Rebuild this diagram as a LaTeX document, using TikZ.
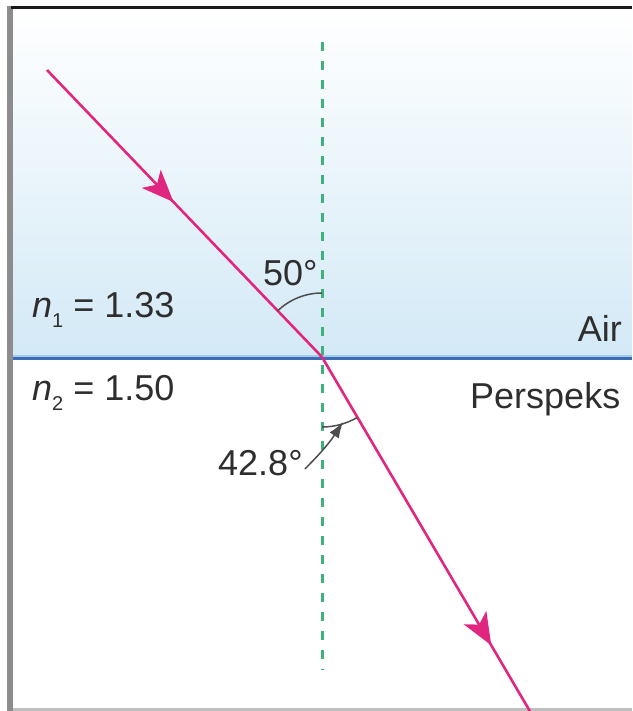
\documentclass[tikz,border=0pt]{standalone}
\usepackage{fontspec}
\setmainfont{Liberation Sans}
\usetikzlibrary{arrows.meta,decorations.markings,calc}
\definecolor{raycol}{HTML}{E0267E}
\definecolor{normcol}{HTML}{3DB27A}
\definecolor{airbot}{HTML}{D3E9F6}
\definecolor{surfdark}{HTML}{3A6DB6}
\definecolor{surflight}{HTML}{A3CCE9}
\definecolor{labcol}{HTML}{2E2E2E}
\definecolor{framegray}{HTML}{8C8C8C}

\begin{document}
\begin{tikzpicture}[x=1pt,y=-1pt]
    \tikzstyle{ray}=[raycol,line width=2.6pt]
    \tikzstyle{raymid}=[postaction={decorate},decoration={markings,
        mark=at position #1 with {\arrow{Stealth[length=32pt,width=26pt,inset=8pt]}}}]
    \tikzstyle{normal}=[normcol,line width=3pt,dash pattern=on 9pt off 10pt]
    \tikzstyle{anglearc}=[labcol!85,line width=1.5pt]
    \tikzstyle{lbl}=[labcol,font=\fontsize{36}{40}\selectfont,inner sep=0pt,anchor=base west]
    \useasboundingbox (0,0) rectangle (632,711);
    % Air and frame
    \shade[top color=white,bottom color=airbot] (13,9) rectangle (632,357);
    \fill[framegray] (7,6) rectangle (13,711);
    \draw[black!90,line width=3pt] (11,7.5) -- (632,7.5);
    \draw[black!25,line width=3pt] (13,709.5) -- (632,709.5);
    % Surface
    \draw[surflight,line width=2pt] (13,355.5) -- (632,355.5);
    \draw[surfdark,line width=3pt] (13,358.5) -- (632,358.5);
    % Normal and rays
    \coordinate (ntop) at (322,42);
    \coordinate (nbot) at (322,670);
    \coordinate (src) at (47,70);
    \coordinate (hit) at (322,357);
    \coordinate (out) at (531,713);
    \draw[normal] (ntop) -- (nbot);
    \draw[ray,raymid=0.46] (src) -- (hit);
    \draw[ray,raymid=0.81] (hit) -- (out);
    % Angles
    \draw[anglearc] ($(hit)+(226.1:64)$) arc[start angle=226.1,end angle=270,radius=64];
    \draw[anglearc] ($(hit)+(90:70)$) arc[start angle=90,end angle=59.6,radius=70];
    \coordinate (tip) at (343,422);
    % Labels
    \node[lbl] (n1) at (32,317) {\textit{n}\raisebox{-0.3em}{\fontsize{20}{20}\selectfont 1}\ = 1.33};
    \node[lbl] (n2) at (32,400) {\textit{n}\raisebox{-0.3em}{\fontsize{20}{20}\selectfont 2}\ = 1.50};
    \node[lbl,anchor=base east] (air) at (622,341) {Air};
    \node[lbl] (persp) at (470,408) {Perspeks};
    \node[lbl] (a1) at (263,285) {50°};
    \node[lbl] (a2) at (218,475) {42.8°};
    \draw[anglearc,-{Latex[length=16pt,width=11pt]}] ($(a2.base east)+(2,-6)$) to[bend right=6] (tip);
\end{tikzpicture}
\end{document}
